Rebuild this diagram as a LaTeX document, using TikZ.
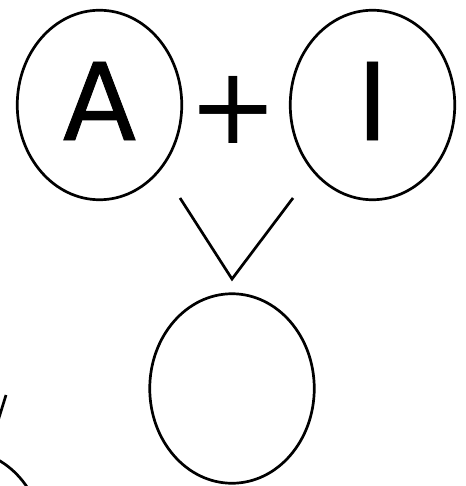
\documentclass[tikz,border=0pt]{standalone}
\usepackage{fontspec}
\setmainfont{DejaVu Sans}
\newfontfamily\heavyletters[FakeBold=0.8]{DejaVu Sans}
\usetikzlibrary{shapes.geometric, positioning, calc}

\begin{document}
\begin{tikzpicture}[x=1pt, y=-1pt, line width=2.7pt]
    \tikzstyle{blob} = [ellipse, draw=black, minimum width=164.5pt, minimum height=189.5pt, inner sep=0pt, font=\heavyletters\fontsize{107}{107}\selectfont, text depth=8pt]
    \tikzstyle{link} = [draw, black, line width=2.7pt]

    \useasboundingbox (0,0) rectangle (465,486);
    \clip (0,0) rectangle (465,486);

    \node [blob] (agent) at (99.5,105) {A};
    \node [blob] (item) at (372.5,105) {I};
    \node [font=\fontsize{107}{107}\selectfont, inner sep=0pt] (plus) at (233,109.5) {+};
    \node [blob] (result) at (232,388.5) {};
    \node [blob] (next) at (-38,545) {};

    % joining V above the result
    \coordinate (vleft) at (180,198);
    \coordinate (vright) at (293,198);
    \coordinate (vtip) at (232,279);
    \path [link] (vleft) -- (vtip) -- (vright);

    % cut-off stroke at the left edge
    \coordinate (wtop) at (6,395);
    \coordinate (wlow) at (-2,421);
    \path [link] (wlow) -- (wtop);
\end{tikzpicture}
\end{document}
